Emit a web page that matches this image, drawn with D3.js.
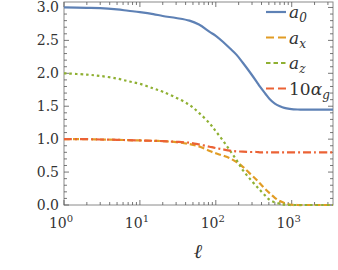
<!DOCTYPE html>
<html>
<head>
<meta charset="utf-8">
<script src="https://cdn.jsdelivr.net/npm/d3@7"></script>
<style>
  body { margin: 0; background: #fff; }
  svg, svg text, svg tspan { font-family: "DejaVu Serif", "Liberation Serif", "Times New Roman", serif; }
</style>
</head>
<body>
<div id="chart"></div>
<script>
"use strict";

// chart values
const ell = [1, 2, 3, 5, 7, 10, 15, 20, 30, 45, 60, 83, 100, 124, 153, 188, 227, 280, 346, 380, 450, 511, 600, 700, 800, 940, 1200, 1500, 2000, 3500];
const a0 = [3.0, 2.995, 2.99, 2.97, 2.95, 2.93, 2.90, 2.87, 2.84, 2.80, 2.74, 2.63, 2.57, 2.48, 2.38, 2.28, 2.16, 2.02, 1.87, 1.80, 1.69, 1.61, 1.54, 1.50, 1.475, 1.46, 1.45, 1.45, 1.45, 1.45];
const ax = [1.0, 1.0, 0.995, 0.99, 0.985, 0.98, 0.975, 0.97, 0.955, 0.925, 0.89, 0.82, 0.785, 0.75, 0.71, 0.65, 0.58, 0.48, 0.38, 0.33, 0.24, 0.18, 0.11, 0.06, 0.03, 0.008, 0.0, 0.0, 0.0, 0.0];
const az = [2.0, 1.98, 1.96, 1.92, 1.88, 1.84, 1.77, 1.72, 1.63, 1.52, 1.40, 1.24, 1.12, 0.98, 0.83, 0.68, 0.53, 0.40, 0.28, 0.23, 0.14, 0.08, 0.04, 0.02, 0.006, 0.0, 0.0, 0.0, 0.0, 0.0];
const ag = [1.0, 1.0, 0.995, 0.99, 0.985, 0.98, 0.975, 0.97, 0.96, 0.945, 0.92, 0.885, 0.865, 0.845, 0.825, 0.815, 0.81, 0.805, 0.805, 0.80, 0.80, 0.80, 0.80, 0.80, 0.80, 0.80, 0.80, 0.80, 0.80, 0.80];
const yTicks = [0, 0.5, 1, 1.5, 2, 2.5, 3];
const xTicks = [1, 10, 100, 1000];

const msm = { width: 338, height: 270, left: 64, right: 333, top: 2, bottom: 205 };

const svg = d3.select("#chart").append("svg")
    .attr("width", msm.width)
    .attr("height", msm.height);

const x = d3.scaleLog().domain([1, 3500]).range([msm.left, msm.right]);
const y = d3.scaleLinear().domain([0, 3.083]).range([msm.bottom, msm.top]);

// frame
svg.append("rect")
    .attr("x", msm.left).attr("y", msm.top)
    .attr("width", msm.right - msm.left).attr("height", msm.bottom - msm.top)
    .attr("fill", "none").attr("stroke", "#8a8a8a").attr("stroke-width", 1);

// ticks on all four sides, pointing in
const tickColor = "#555";
const minorY = d3.range(0, 3.01, 0.1).filter(v => Math.abs(v * 2 - Math.round(v * 2)) > 1e-6);
const minorX = [];
for (let p = 0; p < 4; p++) for (let m = 2; m <= 9; m++) {
    const v = m * Math.pow(10, p);
    if (v <= 3500) minorX.push(v);
}
const tg = svg.append("g").attr("stroke", tickColor).attr("stroke-width", 0.8);
function hTick(v, len) {
    tg.append("line").attr("x1", msm.left).attr("x2", msm.left + len).attr("y1", y(v)).attr("y2", y(v));
    tg.append("line").attr("x1", msm.right).attr("x2", msm.right - len).attr("y1", y(v)).attr("y2", y(v));
}
function vTick(v, len) {
    tg.append("line").attr("x1", x(v)).attr("x2", x(v)).attr("y1", msm.bottom).attr("y2", msm.bottom - len);
    tg.append("line").attr("x1", x(v)).attr("x2", x(v)).attr("y1", msm.top).attr("y2", msm.top + len);
}
yTicks.forEach(v => hTick(v, 5));
minorY.forEach(v => hTick(v, 3));
xTicks.forEach(v => vTick(v, 5));
minorX.forEach(v => vTick(v, 3));

// tick labels
svg.selectAll(".ylab").data(yTicks).enter().append("text")
    .attr("x", msm.left - 5).attr("y", d => y(d) + 5)
    .attr("text-anchor", "end")
    .style("font-size", "14px").attr("fill", "#333")
    .text(d => d.toFixed(1));

const xl = svg.selectAll(".xlab").data(xTicks).enter().append("text")
    .attr("x", d => x(d) - 3).attr("y", 228)
    .attr("text-anchor", "middle")
    .style("font-size", "14px").attr("fill", "#333");
xl.append("tspan").text("10");
xl.append("tspan").attr("dy", -6).style("font-size", "10px").text((d, i) => i);

svg.append("text")
    .attr("x", 198).attr("y", 258)
    .attr("text-anchor", "middle")
    .style("font-size", "20px").style("font-style", "italic").attr("fill", "#333")
    .text("ℓ");

// curves
const series = [
    { name: "a", sub: "0", pre: "", vals: a0, color: "#5E81B5", dash: null, key: null },
    { name: "a", sub: "x", pre: "", vals: ax, color: "#E19C24", dash: "6,3", key: "8,4" },
    { name: "a", sub: "z", pre: "", vals: az, color: "#8FB032", dash: "2.5,3", key: "4.5,3" },
    { name: "α", sub: "g", pre: "10", vals: ag, color: "#EB6235", dash: "8,3,2,3", key: "8,4" }
];

const line = d3.line()
    .x(d => x(d[0]))
    .y(d => y(d[1]))
    .curve(d3.curveCatmullRom.alpha(0.5));

const plot = svg.append("g");
series.forEach(s => {
    plot.append("path")
        .datum(ell.map((l, i) => [l, s.vals[i]]))
        .attr("d", line)
        .attr("fill", "none")
        .attr("stroke", s.color)
        .attr("stroke-width", 2.2)
        .attr("stroke-dasharray", s.dash);
});

// legend
const legend = svg.selectAll(".legend").data(series).enter().append("g")
    .attr("class", "legend")
    .attr("transform", (d, i) => "translate(0," + (12 + i * 25.5) + ")");
legend.append("line")
    .attr("x1", 266).attr("x2", 286).attr("y1", 0).attr("y2", 0)
    .attr("stroke", d => d.color).attr("stroke-width", 2.2)
    .attr("stroke-dasharray", d => d.key);
const lt = legend.append("text")
    .attr("x", 289).attr("y", 6)
    .style("font-size", "17px").attr("fill", "#333");
lt.append("tspan").style("font-style", "normal").text(d => d.pre);
lt.append("tspan").style("font-style", "italic").text(d => d.name);
lt.append("tspan").attr("dy", 4).style("font-size", "12px").style("font-style", "italic").text(d => d.sub);
</script>
</body>
</html>
